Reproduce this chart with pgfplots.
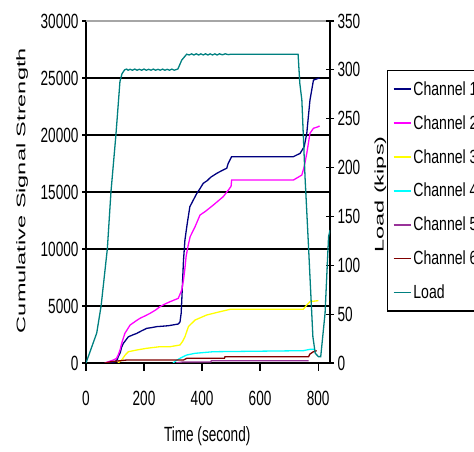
\documentclass[border=0pt]{standalone}
\usepackage{fontspec}
\setmainfont{Liberation Sans}
\newfontfamily\tickfont{Liberation Sans}[FakeStretch=0.66]
\newfontfamily\widefont{Liberation Sans}[FakeStretch=1.88]
\newfontfamily\legfont{Liberation Sans}[FakeStretch=0.74]
\usepackage{pgfplots}
\pgfplotsset{compat=1.18}

\definecolor{ch1}{RGB}{0,0,128}
\definecolor{ch2}{RGB}{255,0,255}
\definecolor{ch3}{RGB}{255,255,0}
\definecolor{ch4}{RGB}{0,255,255}
\definecolor{ch5}{RGB}{153,51,153}
\definecolor{ch6}{RGB}{128,0,0}
\definecolor{loadc}{RGB}{0,128,128}

\pgfplotsset{
  frame/.style={
    scale only axis, width=244pt, height=342pt,
    at={(86pt,89pt)}, anchor=south west,
    xmin=0, xmax=841,
    /pgf/number format/assume math mode=true,
    /pgf/number format/1000 sep={},
    scaled ticks=false,
    ticklabel style={font=\tickfont\fontsize{20.6}{22}\selectfont},
    major tick length=8pt,
    axis line style={-, black, line width=1.2pt},
    tick style={black, line width=1.2pt},
  },
  series/.style={line width=1.3pt, no markers},
}

\begin{document}
\begin{tikzpicture}
\useasboundingbox (0pt,0pt) rectangle (474pt,452pt);

% cumulative signal strength of the six channels (left axis)
\begin{axis}[frame,
  axis x line*=bottom, axis y line*=left,
  ymin=0, ymax=30000,
  xtick={0,200,...,800}, xtick align=outside,
  xticklabel style={yshift=-17pt},
  ytick={0,5000,...,30000}, ytick align=center,
  extra y ticks={5000,10000,...,25000},
  extra y tick labels={},
  extra y tick style={grid=major, major tick length=0pt},
  grid style={black, line width=1.7pt},
  xlabel={Time (second)},
  ylabel={Cumulative Signal Strength},
  xlabel style={at={(axis description cs:0.4967,-0.214)}, anchor=center,
                font=\tickfont\fontsize{20.6}{22}\selectfont},
  ylabel style={at={(axis description cs:-0.262,0.504)}, anchor=center,
                font=\widefont\fontsize{12.5}{14}\selectfont},
  legend style={at={(1.2336,0.8567)}, anchor=north west,
                draw=black, line width=1.2pt,
                font=\legfont\fontsize{19}{22}\selectfont,
                row sep=14.6pt, inner xsep=5pt, inner ysep=9pt},
  legend cell align=left,
  legend image code/.code={\draw[#1, line width=1.8pt] (0pt,0pt) -- (17pt,0pt);},
]
\addplot[series, ch1] coordinates {
(65,0) (95,80) (100,100) (108,300) (111,550) (118,900) (123,1400) (129,1730)
(137,2000) (146,2300) (160,2450) (175,2600) (190,2800) (209,3040) (225,3100)
(244,3190) (265,3230) (284,3270) (318,3420) (324,3600) (328,4360) (331,6000)
(333,7280) (336,9000) (341,10790) (349,12250) (358,13710) (370,14300)
(382,14880) (393,15300) (404,15760) (418,16000) (430,16300) (451,16640)
(470,16900) (485,17080) (490,17500) (502,18100) (715,18100) (738,18390)
(752,18970) (761,20150) (766,21500) (772,23070) (784,24820) (801,24970) (805,25000)};
\addlegendentry{Channel 1}
\addplot[series, ch2] coordinates {
(65,0) (94,260) (105,400) (111,700) (118,1200) (123,1730) (134,2600) (152,3330)
(170,3650) (186,3920) (205,4150) (221,4360) (240,4650) (255,4940) (270,5150)
(290,5380) (318,5670) (330,6400) (336,7280) (341,8300) (345,9330) (352,10300)
(359,11080) (376,11960) (393,12980) (410,13270) (439,13860) (473,14590)
(491,15180) (500,15500) (502,16050) (715,16050) (744,16490) (752,17220)
(761,18390) (772,20150) (784,20590) (801,20730) (805,20800)};
\addlegendentry{Channel 2}
\addplot[series, ch3] coordinates {
(110,0) (123,260) (135,700) (146,990) (175,1140) (209,1290) (255,1430)
(290,1430) (324,1580) (333,1900) (341,2300) (353,3190) (376,3770) (416,4210)
(462,4500) (497,4710) (749,4710) (761,5090) (772,5380) (801,5470)};
\addlegendentry{Channel 3}
\addplot[series, ch4] coordinates {
(300,0) (310,200) (324,410) (347,700) (376,850) (439,990) (749,1080)
(772,1200) (790,1200)};
\addlegendentry{Channel 4}
\addplot[series, ch5] coordinates {
(310,0) (330,80) (430,80) (432,200) (767,200)};
\addlegendentry{Channel 5}
\addplot[series, ch6] coordinates {
(65,0) (88,120) (140,260) (336,260) (347,410) (477,410) (479,550) (767,550)
(772,790) (784,990) (795,1080)};
\addlegendentry{Channel 6}
\addlegendimage{loadc}
\addlegendentry{Load}
\draw[gray!70, line width=1.2pt] (rel axis cs:0,1) -- (rel axis cs:1,1);
\end{axis}

% applied load (right axis)
\begin{axis}[frame,
  axis x line=none, axis y line*=right,
  ymin=0, ymax=350,
  ytick={0,50,...,350}, ytick align=center,
  ylabel={Load (kips)},
  ylabel style={at={(axis description cs:1.207,0.4927)}, anchor=center,
                font=\widefont\fontsize{12.5}{14}\selectfont},
]
\addplot[series, loadc] coordinates {
(0,0) (37,30.7) (52,58.3) (73.6,117) (86,175) (103,233) (117,288) (124,296)
(133,300) (140,300.8) (145,299.6) (152,300.6) (160,299.6) (168,300.8) (176,299.6)
(184,300.6) (192,299.6) (200,300.8) (208,299.6) (216,300.6) (224,299.6) (232,300.8)
(240,299.6) (248,300.6) (256,299.6) (264,300.8) (272,299.6) (280,300.6) (288,299.6)
(296,300.8) (304,299.6) (312,300.4) (317,301) (330,310) (347,316)
(356,315.2) (364,316.4) (372,315.2) (380,316.4) (388,315.2) (396,316.4)
(404,315.2) (412,316.4) (420,315.2) (428,316.4) (436,315.2) (444,316.4)
(452,315.2) (460,316.4) (470,315.4) (480,316.4) (490,315.6) (500,316) (731,316)
(737,286) (744,269) (755,190) (767,119) (772,88) (782,27) (790,10) (801,6.5)
(809,6.5) (824,51) (836,129) (841,136)};
\end{axis}
\end{tikzpicture}
\end{document}
